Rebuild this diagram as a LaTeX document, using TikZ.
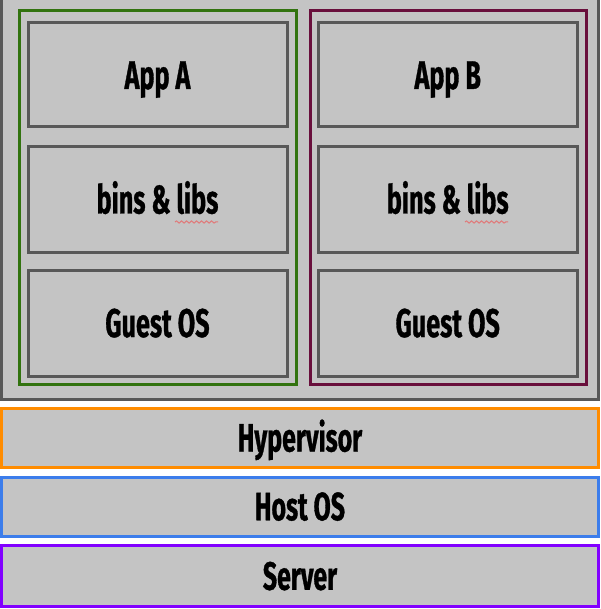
\documentclass[tikz,border=0pt]{standalone}
\usepackage{fontspec}
\newfontfamily\lbl{Fira Sans}[FakeStretch=0.63,FakeBold=0.8]
\usetikzlibrary{decorations.pathmorphing}
\definecolor{boxfill}{RGB}{196,196,196}
\definecolor{boxline}{RGB}{88,88,88}
\definecolor{vmgreen}{RGB}{50,115,15}
\definecolor{vmmaroon}{RGB}{105,15,60}
\definecolor{hvorange}{RGB}{255,140,0}
\definecolor{hostblue}{RGB}{60,125,235}
\definecolor{srvpurple}{RGB}{130,0,255}
\definecolor{squig}{RGB}{225,120,120}
\tikzset{
  outerbox/.style={draw=boxline, fill=boxfill, line width=3pt, inner sep=0pt},
  vmbox/.style={draw=#1, line width=3pt, inner sep=0pt},
  layerbox/.style={draw=boxline, fill=boxfill, line width=3pt, inner sep=0pt,
    minimum width=259pt, font=\lbl\bfseries\fontsize{40}{44}\selectfont,
    text height=28pt, text depth=0pt},
  barbox/.style={draw=#1, fill=boxfill, line width=3pt, inner sep=0pt,
    minimum width=597pt, font=\lbl\bfseries\fontsize{39.5}{43}\selectfont,
    text height=27.5pt, text depth=0pt},
  squiggle/.style={draw=squig, line width=1pt, decorate,
    decoration={snake, amplitude=1.1pt, segment length=5pt}}
}
\begin{document}
\begin{tikzpicture}[x=1pt,y=-1pt]
\useasboundingbox (0,0) rectangle (600,609);
\fill[white] (0,0) rectangle (600,609);
\node[outerbox, minimum width=597pt, minimum height=401.5pt] (outer) at (300,198.75) {};
\node[vmbox=vmgreen, minimum width=276.5pt, minimum height=373pt] (vmA) at (157.75,197.5) {};
\node[vmbox=vmmaroon, minimum width=276pt, minimum height=373pt] (vmB) at (448,197.5) {};
\node[layerbox, minimum height=104pt] (appA) at (157.5,75) {App A};
\node[layerbox, minimum height=105pt] (binsA) at (157.5,199.5) {bins \& libs};
\node[layerbox, minimum height=106pt] (osA) at (157.5,323) {Guest OS};
\node[layerbox, minimum height=104pt] (appB) at (447.75,75) {App B};
\node[layerbox, minimum height=105pt] (binsB) at (447.75,199.5) {bins \& libs};
\node[layerbox, minimum height=106pt] (osB) at (447.75,323) {Guest OS};
\node[barbox=hvorange, minimum height=58.5pt] (hyper) at (300,437.75) {Hypervisor};
\node[barbox=hostblue, minimum height=59pt] (host) at (300,506.5) {Host OS};
\node[barbox=srvpurple, minimum height=61pt] (server) at (300,576) {Server};
\coordinate (sqA1) at (175,222);
\coordinate (sqA2) at (218,222);
\coordinate (sqB1) at (465,222);
\coordinate (sqB2) at (508,222);
\draw[squiggle] (sqA1) -- (sqA2);
\draw[squiggle] (sqB1) -- (sqB2);
\end{tikzpicture}
\end{document}
